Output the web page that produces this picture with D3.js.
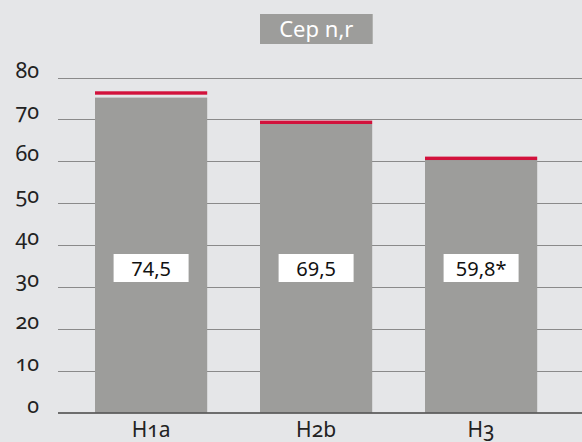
<!DOCTYPE html>
<html>
<head>
<meta charset="utf-8">
<script src="https://cdn.jsdelivr.net/npm/d3@7"></script>
<style>
body { margin: 0; background: #e5e6e8; }
svg text { font-family: "Noto Sans", "Open Sans", sans-serif; }
.tick-label, .cat-label { font-variant-numeric: oldstyle-nums; font-feature-settings: "onum" 1; }
</style>
</head>
<body>
<script>
(function(){

//chart data
var categories = ["H1a", "H2b", "H3"];
var barValues = [75.2, 68.9, 60.3];     //gray bar heights
var markValues = [76.3, 69.3, 60.7];    //red marker lines
var valueLabels = ["74,5", "69,5", "59,8*"];
var yTicks = [0, 10, 20, 30, 40, 50, 60, 70, 80];
var title = "Cep n,r";

var width = 582, height = 442;

var svg = d3.select("body").append("svg")
    .attr("width", width)
    .attr("height", height);

svg.append("rect")
    .attr("width", width)
    .attr("height", height)
    .attr("fill", "#e5e6e8");

var x = d3.scaleBand()
    .domain(categories)
    .range([68.6, 563.6])
    .paddingInner(0.32)
    .paddingOuter(0.16);

var y = d3.scaleLinear()
    .domain([0, 80])
    .range([412.5, 77.5]);

//gridlines
svg.selectAll(".grid")
    .data(yTicks.slice(1))
    .enter()
    .append("line")
    .attr("class", "grid")
    .attr("x1", 58)
    .attr("x2", width)
    .attr("y1", function(d){ return Math.round(y(d)) + 0.5; })
    .attr("y2", function(d){ return Math.round(y(d)) + 0.5; })
    .attr("stroke", "#8a8a8a")
    .attr("stroke-width", 1);

//tick labels
svg.selectAll(".tick-label")
    .data(yTicks)
    .enter()
    .append("text")
    .attr("class", "tick-label")
    .attr("x", 39)
    .attr("y", function(d){ return y(d); })
    .attr("text-anchor", "end")
    .attr("font-size", 21.5)
    .attr("fill", "#222")
    .text(function(d){ return d; });

//bars
svg.selectAll(".bar")
    .data(categories)
    .enter()
    .append("rect")
    .attr("class", "bar")
    .attr("x", function(d){ return x(d); })
    .attr("width", x.bandwidth())
    .attr("y", function(d, i){ return y(barValues[i]); })
    .attr("height", function(d, i){ return y(0) - y(barValues[i]); })
    .attr("fill", "#9d9d9b");

//red markers
svg.selectAll(".mark")
    .data(categories)
    .enter()
    .append("rect")
    .attr("class", "mark")
    .attr("x", function(d){ return x(d); })
    .attr("width", x.bandwidth())
    .attr("y", function(d, i){ return y(markValues[i]) - 1.7; })
    .attr("height", 3.4)
    .attr("fill", "#d2123c");

//axis baseline
svg.append("line")
    .attr("x1", 58)
    .attr("x2", width)
    .attr("y1", y(0) + 0.5)
    .attr("y2", y(0) + 0.5)
    .attr("stroke", "#444")
    .attr("stroke-width", 1.6);

//value label boxes
var labels = svg.selectAll(".vlabel")
    .data(categories)
    .enter()
    .append("g")
    .attr("class", "vlabel")
    .attr("transform", function(d){
        return "translate(" + (x(d) + x.bandwidth() / 2) + ",268)";
    });

labels.append("rect")
    .attr("x", -37.5)
    .attr("y", -14)
    .attr("width", 75)
    .attr("height", 28)
    .attr("fill", "#fff");

labels.append("text")
    .attr("text-anchor", "middle")
    .attr("y", 7.5)
    .attr("font-size", 20)
    .attr("fill", "#111")
    .text(function(d, i){ return valueLabels[i]; });

//category labels
svg.selectAll(".cat-label")
    .data(categories)
    .enter()
    .append("text")
    .attr("class", "cat-label")
    .attr("x", function(d){ return x(d) + x.bandwidth() / 2; })
    .attr("y", 437)
    .attr("text-anchor", "middle")
    .attr("font-size", 21)
    .attr("fill", "#222")
    .text(function(d){ return d; });

//title box
svg.append("rect")
    .attr("x", 260)
    .attr("y", 14)
    .attr("width", 112.7)
    .attr("height", 30)
    .attr("fill", "#9d9d9b");

svg.append("text")
    .attr("x", 316.3)
    .attr("y", 36.5)
    .attr("text-anchor", "middle")
    .attr("font-size", 22)
    .attr("fill", "#fff")
    .text(title);

})();
</script>
</body>
</html>
